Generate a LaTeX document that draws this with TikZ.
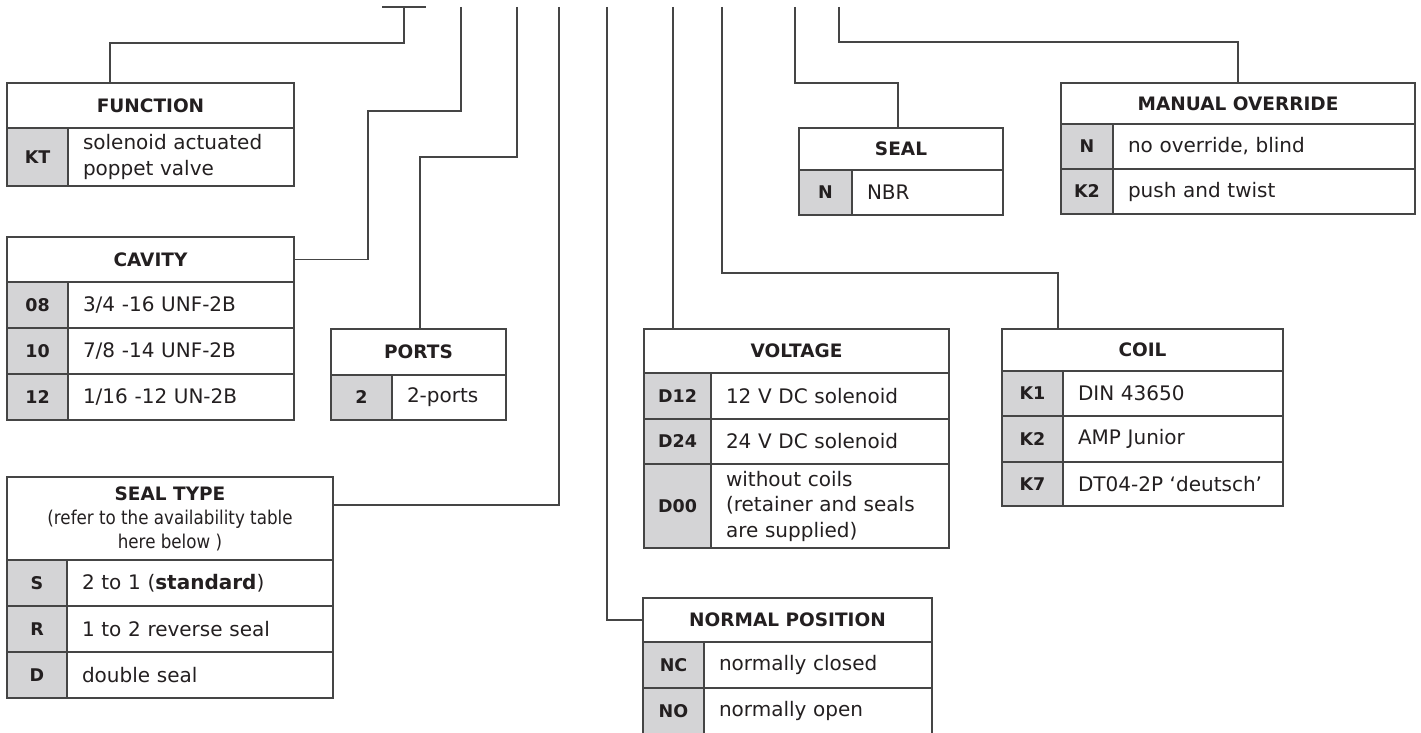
\documentclass[tikz,border=0pt]{standalone}
\usepackage{fontspec}
\setmainfont{DejaVu Sans}
\newfontfamily\condfont{DejaVu Sans}[FakeStretch=0.88]
\usepackage{xcolor}
\usepackage{tikz}
\usetikzlibrary{positioning}

\definecolor{keygray}{HTML}{D4D4D6}
\definecolor{rulegray}{HTML}{454545}
\definecolor{inkgray}{HTML}{231F20}

\newcommand{\subnote}{\condfont\mdseries\fontsize{19}{24}\selectfont}

\begin{document}
\begin{tikzpicture}[x=1pt, y=-1pt,
  wire/.style={draw=rulegray, line width=1.1pt},
  cell/.style={draw=rulegray, line width=1.1pt, anchor=north west, inner sep=0pt, outer sep=0pt, text=inkgray},
  headcell/.style={cell, font=\fontsize{18.5}{24}\selectfont\bfseries},
  keycell/.style={cell, fill=keygray, font=\fontsize{17.5}{22}\selectfont\bfseries},
  valcell/.style={cell, text width=#1, inner xsep=15pt, align=left, font=\fontsize{20}{25.5}\selectfont}]

  \useasboundingbox (0,0) rectangle (1421,733);
  \clip (0,0) rectangle (1421,733);

  % function
  \node[headcell, minimum width=287pt, minimum height=45pt] (fnH) at (7,83) {FUNCTION};
  \node[keycell, minimum width=61pt, minimum height=58pt] (fnK) at (fnH.south west) {KT};
  \node[valcell=196pt, minimum height=58pt] (fnV) at (fnK.north east) {solenoid actuated\\poppet valve};

  % cavity
  \node[headcell, minimum width=287pt, minimum height=45pt] (cvH) at (7,237) {CAVITY};
  \node[keycell, minimum width=61pt, minimum height=46pt] (cvK1) at (cvH.south west) {08};
  \node[valcell=196pt, minimum height=46pt] (cvV1) at (cvK1.north east) {3/4 -16 UNF-2B};
  \node[keycell, minimum width=61pt, minimum height=46pt] (cvK2) at (cvK1.south west) {10};
  \node[valcell=196pt, minimum height=46pt] (cvV2) at (cvK2.north east) {7/8 -14 UNF-2B};
  \node[keycell, minimum width=61pt, minimum height=46pt] (cvK3) at (cvK2.south west) {12};
  \node[valcell=196pt, minimum height=46pt] (cvV3) at (cvK3.north east) {1/16 -12 UN-2B};

  % ports
  \node[headcell, minimum width=175pt, minimum height=46pt] (ptH) at (331,329) {PORTS};
  \node[keycell, minimum width=61pt, minimum height=45pt] (ptK) at (ptH.south west) {2};
  \node[valcell=84pt, minimum height=45pt] (ptV) at (ptK.north east) {2-ports};

  % seal type
  \node[headcell, minimum width=326pt, minimum height=83pt, align=center] (stH) at (7,477)
    {SEAL TYPE\\{\subnote (refer to the availability table}\\{\subnote here below )}};
  \node[keycell, minimum width=60pt, minimum height=46pt] (stK1) at (stH.south west) {S};
  \node[valcell=236pt, minimum height=46pt] (stV1) at (stK1.north east) {2 to 1 (\textbf{standard})};
  \node[keycell, minimum width=60pt, minimum height=46pt] (stK2) at (stK1.south west) {R};
  \node[valcell=236pt, minimum height=46pt] (stV2) at (stK2.north east) {1 to 2 reverse seal};
  \node[keycell, minimum width=60pt, minimum height=46pt] (stK3) at (stK2.south west) {D};
  \node[valcell=236pt, minimum height=46pt] (stV3) at (stK3.north east) {double seal};

  % normal position
  \node[headcell, minimum width=289pt, minimum height=44pt] (npH) at (643,598) {NORMAL POSITION};
  \node[keycell, minimum width=61pt, minimum height=46pt] (npK1) at (npH.south west) {NC};
  \node[valcell=198pt, minimum height=46pt] (npV1) at (npK1.north east) {normally closed};
  \node[keycell, minimum width=61pt, minimum height=46pt] (npK2) at (npK1.south west) {NO};
  \node[valcell=198pt, minimum height=46pt] (npV2) at (npK2.north east) {normally open};

  % voltage
  \node[headcell, minimum width=305pt, minimum height=44pt] (vtH) at (644,329) {VOLTAGE};
  \node[keycell, minimum width=67pt, minimum height=46pt] (vtK1) at (vtH.south west) {D12};
  \node[valcell=208pt, minimum height=46pt] (vtV1) at (vtK1.north east) {12 V DC solenoid};
  \node[keycell, minimum width=67pt, minimum height=45pt] (vtK2) at (vtK1.south west) {D24};
  \node[valcell=208pt, minimum height=45pt] (vtV2) at (vtK2.north east) {24 V DC solenoid};
  \node[keycell, minimum width=67pt, minimum height=84pt] (vtK3) at (vtK2.south west) {D00};
  \node[valcell=208pt, minimum height=84pt] (vtV3) at (vtK3.north east) {without coils\\(retainer and seals\\are supplied)};

  % coil
  \node[headcell, minimum width=281pt, minimum height=42pt] (clH) at (1002,329) {COIL};
  \node[keycell, minimum width=61pt, minimum height=45pt] (clK1) at (clH.south west) {K1};
  \node[valcell=190pt, minimum height=45pt] (clV1) at (clK1.north east) {DIN 43650};
  \node[keycell, minimum width=61pt, minimum height=46pt] (clK2) at (clK1.south west) {K2};
  \node[valcell=190pt, minimum height=46pt] (clV2) at (clK2.north east) {AMP Junior};
  \node[keycell, minimum width=61pt, minimum height=44pt] (clK3) at (clK2.south west) {K7};
  \node[valcell=190pt, minimum height=44pt] (clV3) at (clK3.north east) {DT04-2P ‘deutsch’};

  % seal
  \node[headcell, minimum width=204pt, minimum height=42pt] (slH) at (799,128) {SEAL};
  \node[keycell, minimum width=53pt, minimum height=45pt] (slK) at (slH.south west) {N};
  \node[valcell=121pt, minimum height=45pt] (slV) at (slK.north east) {NBR};

  % manual override
  \node[headcell, minimum width=354pt, minimum height=41pt] (moH) at (1061,83) {MANUAL OVERRIDE};
  \node[keycell, minimum width=52pt, minimum height=45pt] (moK1) at (moH.south west) {N};
  \node[valcell=272pt, minimum height=45pt] (moV1) at (moK1.north east) {no override, blind};
  \node[keycell, minimum width=52pt, minimum height=45pt] (moK2) at (moK1.south west) {K2};
  \node[valcell=272pt, minimum height=45pt] (moV2) at (moK2.north east) {push and twist};

  % leads from the code line
  \coordinate (tbL) at (382,7);
  \coordinate (tbR) at (426,7);
  \coordinate (fnTop) at (404,7);
  \coordinate (cvTop) at (461,7);
  \coordinate (ptTop) at (517,7);
  \coordinate (stTop) at (559,7);
  \coordinate (npTop) at (607,7);
  \coordinate (vtTop) at (673,7);
  \coordinate (clTop) at (722,7);
  \coordinate (slTop) at (795,7);
  \coordinate (moTop) at (839,7);

  \draw[wire] (tbL) -- (tbR);
  \draw[wire] (fnTop) -- ++(0,36) -| ([xshift=103pt]fnH.north west);
  \draw[wire] (cvTop) -- ++(0,104) -| ([xshift=74pt]cvH.east) -- (cvH.east);
  \draw[wire] (ptTop) -- ++(0,150) -| ([xshift=89pt]ptH.north west);
  \draw[wire] (stTop) |- ([yshift=-28pt]stH.north east);
  \draw[wire] (npTop) |- (npH.west);
  \draw[wire] (vtTop) -- ([xshift=29pt]vtH.north west);
  \draw[wire] (clTop) -- ++(0,266) -| ([xshift=56pt]clH.north west);
  \draw[wire] (slTop) -- ++(0,76) -| ([xshift=99pt]slH.north west);
  \draw[wire] (moTop) -- ++(0,35) -| ([xshift=177pt]moH.north west);

\end{tikzpicture}
\end{document}
